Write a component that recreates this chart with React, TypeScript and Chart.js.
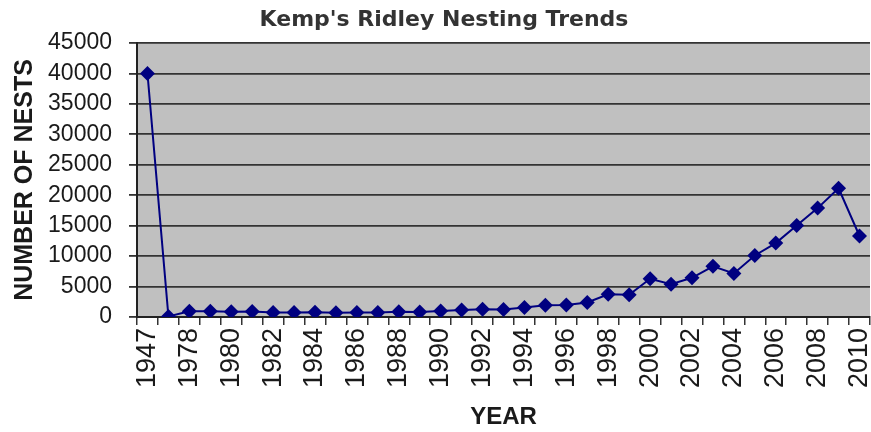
import React, { useEffect, useRef } from "react";
import { Chart, registerables } from "chart.js";

Chart.register(...registerables);

const years = [
  "1947", "1977", "1978", "1979", "1980", "1981", "1982", "1983", "1984", "1985",
  "1986", "1987", "1988", "1989", "1990", "1991", "1992", "1993", "1994", "1995",
  "1996", "1997", "1998", "1999", "2000", "2001", "2002", "2003", "2004", "2005",
  "2006", "2007", "2008", "2009", "2010",
];

const nests = [
  40000, 100, 924, 954, 868, 897, 750, 746, 798, 702,
  744, 737, 842, 828, 992, 1155, 1275, 1241, 1562, 1930,
  1981, 2387, 3735, 3641, 6277, 5373, 6436, 8323, 7147, 10099,
  12143, 15032, 17882, 21144, 13302,
];

const yMin = 0;
const yMax = 45000;
const yStep = 5000;

const chartTitle = "Kemp's Ridley Nesting Trends";
const xTitle = "YEAR";
const yTitle = "NUMBER OF NESTS";

const plotBg = {
  id: "plotBg",
  beforeDraw(chart: any) {
    const { ctx, chartArea } = chart;
    ctx.save();
    ctx.fillStyle = "#c0c0c0";
    ctx.fillRect(chartArea.left, chartArea.top, chartArea.right - chartArea.left, chartArea.bottom - chartArea.top);
    ctx.restore();
  },
};

const titlePlugin = {
  id: "customTitle",
  afterDraw(chart: any) {
    const { ctx } = chart;
    ctx.save();
    ctx.font = "bold 22px 'DejaVu Sans', Verdana, sans-serif";
    ctx.fillStyle = "#333333";
    ctx.textAlign = "center";
    ctx.textBaseline = "middle";
    ctx.fillText(chartTitle, 444, 20);
    ctx.restore();
  },
};

export default function App() {
  const ref = useRef<HTMLCanvasElement>(null);

  useEffect(() => {
    document.body.style.margin = "0";
    const canvas = ref.current;
    if (!canvas) return;
    const chart = new Chart(canvas, {
      type: "line",
      data: {
        labels: years,
        datasets: [
          {
            data: nests,
            borderColor: "#000080",
            backgroundColor: "#000080",
            borderWidth: 2,
            pointStyle: "rectRot",
            pointRadius: 7.5,
            pointBorderWidth: 0,
            pointBackgroundColor: "#000080",
            tension: 0,
          },
        ],
      },
      options: {
        responsive: false,
        animation: false,
        layout: { autoPadding: false, padding: { top: 43, right: 1, left: 0, bottom: 0 } },
        plugins: {
          legend: { display: false },
          title: { display: false },
          tooltip: { enabled: false },
        },
        scales: {
          x: {
            type: "category",
            offset: true,
            afterFit(scale: any) {
              scale.height = 115;
              scale.paddingLeft = 0;
              scale.paddingRight = 0;
            },
            grid: {
              offset: true,
              drawOnChartArea: false,
              drawTicks: true,
              tickLength: 8,
              color: "#333333",
              lineWidth: 1.5,
            },
            border: { display: true, color: "#222222", width: 2 },
            ticks: {
              autoSkip: false,
              minRotation: 90,
              maxRotation: 90,
              padding: 3,
              color: "#1a1a1a",
              font: { family: "'Liberation Sans', Arial, sans-serif", size: 27 },
              callback: function (this: any, val: any, idx: number) {
                return idx % 2 === 0 ? this.getLabelForValue(val) : "";
              },
            },
            title: {
              display: true,
              text: xTitle,
              color: "#1a1a1a",
              font: { family: "'Liberation Sans', Arial, sans-serif", size: 24, weight: "bold" },
              padding: { top: 0, bottom: 0 },
            },
          },
          y: {
            min: yMin,
            max: yMax,
            afterFit(scale: any) {
              scale.width = 137;
            },
            grid: {
              color: "#333333",
              lineWidth: 1.8,
              tickLength: 8,
            },
            border: { display: true, color: "#222222", width: 2 },
            ticks: {
              stepSize: yStep,
              autoSkip: false,
              padding: 17,
              color: "#1a1a1a",
              font: { family: "'Liberation Sans', Arial, sans-serif", size: 23 },
              callback: (v: any) => String(v),
            },
            title: {
              display: true,
              text: yTitle,
              color: "#1a1a1a",
              font: { family: "'Liberation Sans', Arial, sans-serif", size: 25, weight: "bold" },
              padding: { top: 10, bottom: 0 },
            },
          },
        },
      },
      plugins: [plotBg, titlePlugin],
    });
    return () => chart.destroy();
  }, []);

  return (
    <div style={{ width: 871, height: 432 }}>
      <canvas ref={ref} width={871} height={432} />
    </div>
  );
}
